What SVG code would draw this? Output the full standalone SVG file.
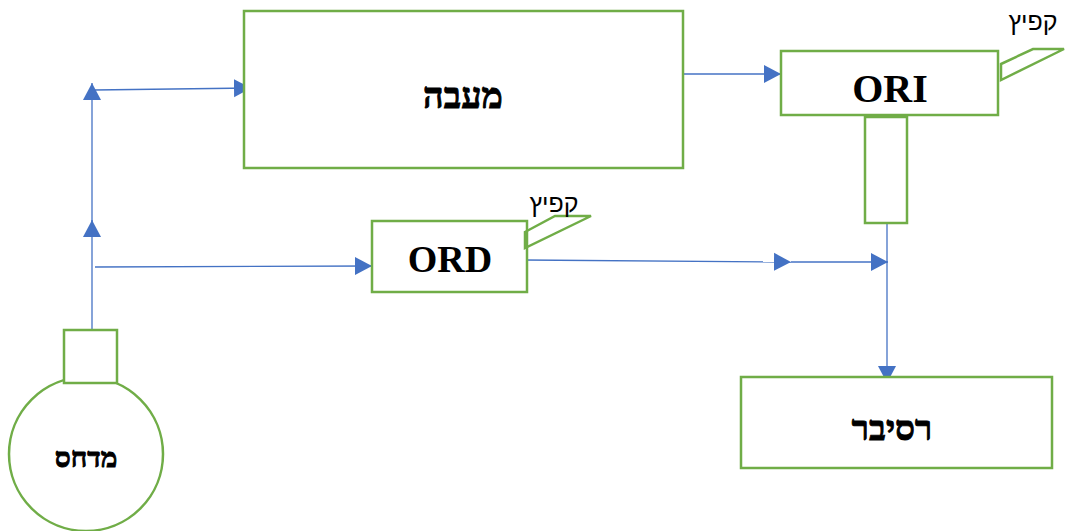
<svg xmlns="http://www.w3.org/2000/svg" width="1065" height="531" viewBox="0 0 1065 531">
<style>
.box{fill:#fff;stroke:#70AD47;stroke-width:2.5}
.spring{fill:none;stroke:#70AD47;stroke-width:2.5;stroke-linejoin:miter}
.c{fill:none;stroke:#4472C4;stroke-width:1.3}
.lbl{font-family:"Liberation Serif","DejaVu Serif",serif;font-weight:bold;fill:#000;text-anchor:middle}
.heb{stroke:#000;stroke-width:0.9}
.sm{font-family:"Liberation Sans","DejaVu Sans",sans-serif;font-size:25px;fill:#000;text-anchor:middle}
</style>
<defs>
<marker id="ah" markerWidth="18" markerHeight="19" refX="17" refY="9.5" orient="auto" markerUnits="userSpaceOnUse">
<path d="M0,0.5 L17,9.5 L0,18.5 Z" fill="#4472C4"/>
</marker>
</defs>
<rect width="1065" height="531" fill="#fff"/>
<g id="connectors">
<path class="c" d="M92,330 V220" marker-end="url(#ah)"/>
<path class="c" d="M92,234 V83" marker-end="url(#ah)"/>
<path class="c" d="M94,90 L251,88" marker-end="url(#ah)"/>
<path class="c" d="M95,267 L372,266" marker-end="url(#ah)"/>
<path class="c" d="M524,260 L791,262" marker-end="url(#ah)"/>
<path class="c" d="M791,262 L888,262" marker-end="url(#ah)"/>
<path class="c" d="M887,223 V383" marker-end="url(#ah)"/>
<path class="c" d="M683,74 H781" marker-end="url(#ah)"/>
</g>
<g id="condenser">
<rect class="box" x="244" y="11" width="439" height="157"/>
<text class="lbl heb" x="463" y="108" font-size="36">מעבה</text>
</g>
<g id="ori">
<rect class="box" x="781" y="51" width="217" height="64"/>
<text class="lbl" x="890" y="102" font-size="40">ORI</text>
<rect class="box" x="865" y="117" width="42" height="106"/>
</g>
<g id="ori-spring">
<path class="spring" d="M1001,64 L1033,49 L1064,49 L1001,80 Z"/>
<text class="sm" x="1033" y="30">קפיץ</text>
</g>
<g id="ord">
<rect class="box" x="372" y="221" width="155" height="71"/>
<text class="lbl" x="450" y="272" font-size="38">ORD</text>
</g>
<g id="ord-spring">
<path class="spring" d="M525,232 L555,216 L591,216 L525,248 Z"/>
<text class="sm" x="554" y="212">קפיץ</text>
</g>
<g id="receiver">
<rect class="box" x="741" y="377" width="311" height="91"/>
<text class="lbl heb" x="892" y="440" font-size="35">רסיבר</text>
</g>
<g id="compressor">
<circle class="box" cx="86" cy="454" r="77"/>
<rect class="box" x="64" y="330" width="53" height="53"/>
<text class="lbl heb" x="86" y="467" font-size="28">מדחס</text>
</g>
</svg>
